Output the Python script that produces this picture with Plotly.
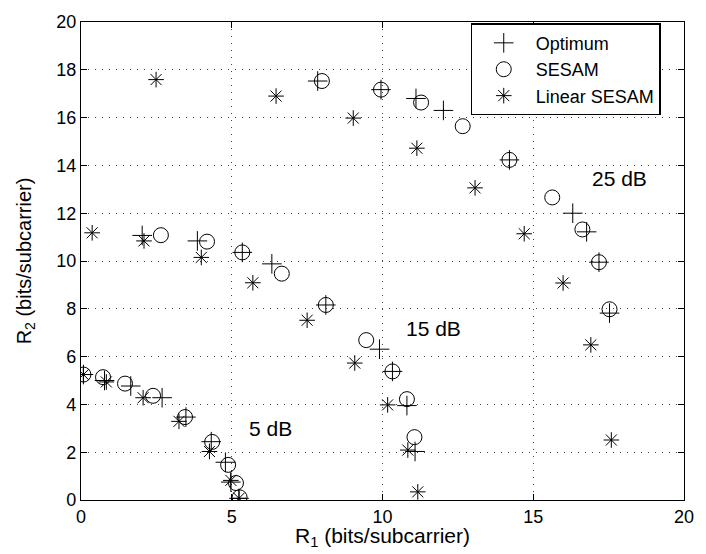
import plotly.graph_objects as go

# 5 dB, 15 dB, 25 dB clusters
opt_x = [0.08, 0.78, 1.65, 2.69, 3.48, 4.32, 4.79, 4.97, 5.24,
         2.03, 3.86, 5.35, 6.33, 8.12, 9.90, 10.33, 10.81, 11.08,
         7.85, 9.95, 11.11, 12.02, 14.21, 16.31, 16.77, 17.18, 17.53]
opt_y = [5.25, 5.00, 4.77, 4.28, 3.47, 2.44, 1.58, 0.75, 0.07,
         11.07, 10.84, 10.36, 9.88, 8.16, 6.31, 5.38, 3.95, 2.03,
         17.53, 17.17, 16.80, 16.30, 14.23, 12.00, 11.22, 9.95, 7.82]

sesam_x = [0.08, 0.73, 1.46, 2.39, 3.45, 4.35, 4.88, 5.14, 5.26,
           2.65, 4.18, 5.35, 6.66, 8.12, 9.46, 10.33, 10.81, 11.06,
           7.99, 9.95, 11.28, 12.66, 14.21, 15.63, 16.63, 17.18, 17.53]
sesam_y = [5.25, 5.14, 4.87, 4.36, 3.47, 2.43, 1.47, 0.71, 0.11,
           11.08, 10.81, 10.36, 9.47, 8.16, 6.69, 5.38, 4.22, 2.63,
           17.53, 17.17, 16.63, 15.64, 14.23, 12.66, 11.32, 9.95, 7.98]

lin_x = [0.08, 0.84, 2.06, 3.25, 4.26, 4.97, 5.24,
         0.37, 2.09, 3.99, 5.70, 7.50, 9.08, 10.17, 10.84, 11.17,
         2.49, 6.47, 9.03, 11.14, 13.07, 14.70, 15.99, 16.91, 17.59]
lin_y = [5.25, 4.94, 4.28, 3.29, 2.03, 0.82, 0.07,
         11.18, 10.84, 10.15, 9.09, 7.52, 5.73, 3.98, 2.09, 0.34,
         17.59, 16.90, 15.98, 14.72, 13.06, 11.14, 9.08, 6.49, 2.51]

labels = ["5 dB", "15 dB", "25 dB"]
label_x = [6.3, 11.7, 17.85]
label_y = [3.0, 7.16, 13.45]

x_ticks = [0, 5, 10, 15, 20]
y_ticks = [0, 2, 4, 6, 8, 10, 12, 14, 16, 18, 20]

FONT = "Liberation Sans, Arial, sans-serif"

fig = go.Figure()
fig.add_trace(go.Scatter(x=opt_x, y=opt_y, mode="markers", name="Optimum",
                         marker=dict(symbol="cross-thin-open", size=14, color="black",
                                     line=dict(width=1, color="black"))))
fig.add_trace(go.Scatter(x=sesam_x, y=sesam_y, mode="markers", name="SESAM",
                         marker=dict(symbol="circle-open", size=15, color="black",
                                     line=dict(width=1, color="black"))))
fig.add_trace(go.Scatter(x=lin_x, y=lin_y, mode="markers", name="Linear SESAM",
                         marker=dict(symbol="asterisk-open", size=13, color="black",
                                     line=dict(width=1, color="black"))))

for t, xx, yy in zip(labels, label_x, label_y):
    fig.add_annotation(x=xx, y=yy, text=t, showarrow=False, xref="x", yref="y",
                       font=dict(size=21, color="black", family=FONT))

# x-axis title as paper annotation for precise placement
fig.add_annotation(x=0.5, y=-0.078, xref="paper", yref="paper", yanchor="middle",
                   text="R<sub>1</sub> (bits/subcarrier)", showarrow=False,
                   font=dict(size=21, color="black", family=FONT))

axis_common = dict(showline=True, linecolor="black", linewidth=1.2, mirror="ticks",
                   ticks="inside", ticklen=6, tickcolor="black",
                   showgrid=True, gridcolor="#444444", griddash="1px,6px", gridwidth=1,
                   zeroline=False, tickfont=dict(size=18, color="black", family=FONT))

fig.update_xaxes(range=[0, 20], tickvals=x_ticks, **axis_common)
fig.update_yaxes(range=[0, 20], tickvals=y_ticks,
                 title=dict(text="R<sub>2</sub> (bits/subcarrier)", standoff=19,
                            font=dict(size=20, color="black", family=FONT)),
                 **axis_common)

fig.update_layout(
    width=706, height=554,
    margin=dict(l=81, r=12, t=14, b=54),
    plot_bgcolor="white", paper_bgcolor="white",
    font=dict(family=FONT, color="black"),
    legend=dict(x=0.646, y=0.997, xanchor="left", yanchor="top",
                bordercolor="black", borderwidth=1.2, bgcolor="white",
                font=dict(size=18, color="black", family=FONT),
                tracegroupgap=0, itemwidth=54),
    showlegend=True,
)

fig.write_html("out.html")
